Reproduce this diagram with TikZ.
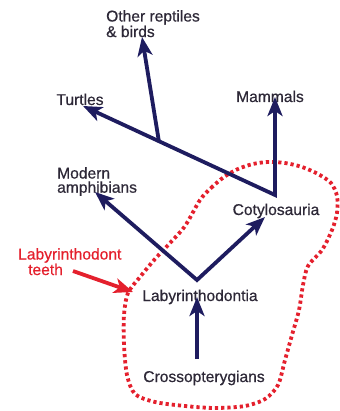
\documentclass[tikz,border=0pt]{standalone}
\usepackage{fontspec}
\setmainfont{Liberation Sans}
\newfontfamily\lblfont{Liberation Sans}[FakeBold=0.6]
\usetikzlibrary{arrows.meta}
\definecolor{navy}{RGB}{30,28,95}
\definecolor{dotred}{RGB}{228,32,45}
\definecolor{txt}{RGB}{45,40,55}
\begin{document}
\begin{tikzpicture}[x=1pt,y=-1pt,
  >={Stealth[length=19pt,width=15pt,inset=5pt]},
  lbl/.style={inner sep=0pt, text=txt, font=\lblfont\fontsize{15.6}{14.2}\selectfont},
  branch/.style={draw=navy, line width=3.8pt},
  redarrow/.style={draw=dotred, line width=3.8pt, ->},
  dotline/.style={draw=dotred, line width=3.8pt, dash pattern=on 3.2pt off 3pt}]
\useasboundingbox (0,0) rectangle (339,411);
% labels
\node[lbl, anchor=north west, align=left] (other) at (106,10) {Other reptiles\\\& birds};
\node[lbl, anchor=base] (turtles) at (80,105) {Turtles};
\node[lbl, anchor=base] (mammals) at (270,102) {Mammals};
\node[lbl, anchor=north west, align=left] (modern) at (57,167) {Modern\\amphibians};
\node[lbl, anchor=base] (cotylo) at (276,215) {Cotylosauria};
\node[lbl, anchor=base] (laby) at (200,301) {Labyrinthodontia};
\node[lbl, anchor=base] (cross) at (204,382) {Crossopterygians};
\node[lbl, text=dotred, anchor=north west, align=left] (teeth) at (18,248) {Labyrinthodont\\\hspace*{10pt}teeth};
% junctions and arrow tips
\coordinate (j1) at (159,142);
\coordinate (jC) at (275,195);
\coordinate (jL) at (197,280);
\coordinate (tO) at (142,37);
\coordinate (tT) at (83,106);
\coordinate (tM) at (275,97);
\coordinate (tMA) at (95,192);
\coordinate (tC) at (265,217);
\coordinate (tL) at (197,297);
\coordinate (sX) at (197,359);
\coordinate (rS) at (73,271);
\coordinate (rT) at (133,292);
% dotted outline
\draw[dotline] plot[smooth cycle] coordinates {(200,200) (211,188) (224,177) (238,169) (253,164) (268,162) (285,163) (302,167) (318,174) (331,183) (337,196) (337,213) (332,230) (322,250) (308,266) (303,285) (299,310) (292,335) (285,360) (278,385) (265,399) (245,406) (215,408) (185,406) (155,402) (135,394) (127,375) (124,345) (124,315) (128,293) (140,277) (155,259) (170,243) (185,226)};
% tree
\draw[branch, <->] (tT) -- (jC) -- (tM);
\draw[branch, ->] (j1) -- (tO);
\draw[branch, <->] (tMA) -- (jL) -- (tC);
\draw[branch, ->] (sX) -- (tL);
\draw[redarrow] (rS) -- (rT);
\end{tikzpicture}
\end{document}
